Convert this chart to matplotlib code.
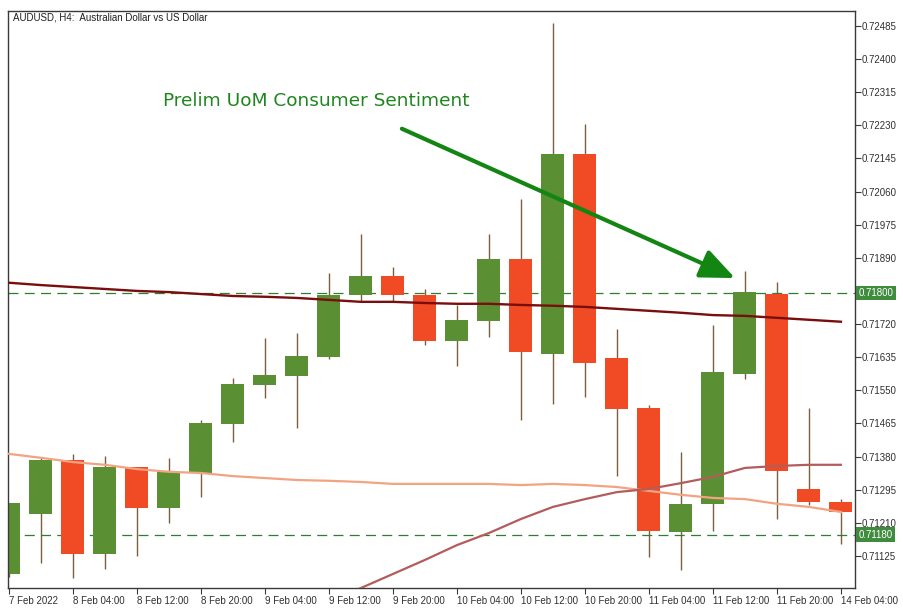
import matplotlib
matplotlib.use("Agg")
import matplotlib.pyplot as plt
import numpy as np
from matplotlib.transforms import blended_transform_factory

# ---- data (AUDUSD H4) ----
opens  = [0.71079, 0.71233, 0.71371, 0.71130, 0.71353, 0.71248, 0.71338, 0.71464, 0.71564,
          0.71587, 0.71636, 0.71795, 0.71843, 0.71795, 0.71677, 0.71728, 0.71887, 0.71643,
          0.72157, 0.71633, 0.71505, 0.71187, 0.71259, 0.71592, 0.71797, 0.71297, 0.71264]
highs  = [0.71261, 0.71379, 0.71387, 0.71382, 0.71353, 0.71377, 0.71474, 0.71582, 0.71684,
          0.71697, 0.71851, 0.71951, 0.71867, 0.71810, 0.71769, 0.71951, 0.72041, 0.72493,
          0.72234, 0.71708, 0.71513, 0.71392, 0.71718, 0.71856, 0.71828, 0.71505, 0.71271]
lows   = [0.71070, 0.71107, 0.71069, 0.71092, 0.71125, 0.71210, 0.71276, 0.71418, 0.71530,
          0.71453, 0.71630, 0.71777, 0.71777, 0.71666, 0.71613, 0.71687, 0.71474, 0.71515,
          0.71533, 0.71330, 0.71122, 0.71089, 0.71189, 0.71579, 0.71220, 0.71256, 0.71156]
closes = [0.71261, 0.71371, 0.71130, 0.71353, 0.71248, 0.71341, 0.71466, 0.71566, 0.71589,
          0.71638, 0.71795, 0.71843, 0.71795, 0.71677, 0.71731, 0.71887, 0.71649, 0.72157,
          0.71620, 0.71502, 0.71189, 0.71259, 0.71597, 0.71802, 0.71343, 0.71264, 0.71238]

ma_slow = [0.71826, 0.71820, 0.71815, 0.71810, 0.71805, 0.71802, 0.71797, 0.71792, 0.71790,
           0.71787, 0.71782, 0.71777, 0.71777, 0.71774, 0.71772, 0.71772, 0.71769, 0.71767,
           0.71764, 0.71759, 0.71754, 0.71749, 0.71743, 0.71741, 0.71736, 0.71731, 0.71726]
ma_mid  = [0.71387, 0.71377, 0.71366, 0.71359, 0.71348, 0.71341, 0.71338, 0.71330, 0.71325,
           0.71320, 0.71318, 0.71315, 0.71310, 0.71310, 0.71310, 0.71310, 0.71307, 0.71310,
           0.71307, 0.71302, 0.71292, 0.71282, 0.71274, 0.71271, 0.71259, 0.71251, 0.71238]
ma_fast = [np.nan] * 10 + [0.71007, 0.71043, 0.71079, 0.71115, 0.71153, 0.71184, 0.71220,
                           0.71251, 0.71271, 0.71289, 0.71297, 0.71312, 0.71328, 0.71351,
                           0.71356, 0.71359, 0.71359]

level_lines = [0.71800, 0.71180]
ytick_values = [round(0.72485 - 0.00085 * i, 5) for i in range(17)]
xtick_labels = ["7 Feb 2022", "8 Feb 04:00", "8 Feb 12:00", "8 Feb 20:00", "9 Feb 04:00",
                "9 Feb 12:00", "9 Feb 20:00", "10 Feb 04:00", "10 Feb 12:00", "10 Feb 20:00",
                "11 Feb 04:00", "11 Feb 12:00", "11 Feb 20:00", "14 Feb 04:00"]
title = "AUDUSD, H4:  Australian Dollar vs US Dollar"
annotation = "Prelim UoM Consumer Sentiment"

# ---- styles ----
UP = "#5b8f33"
DOWN = "#f04b24"
WICK = "#7d5f3e"
AX = "#3a3a3a"
LVL = "#2f7d2f"
TXT = "#303030"

W, H = 904, 613
fig = plt.figure(figsize=(W / 100, H / 100), dpi=100)
L, R, T, B = 8, 855, 11, 588
ax = fig.add_axes([L / W, (H - B) / H, (R - L) / W, (B - T) / H])

n = len(opens)
x = np.arange(n)
ax.set_xlim(-0.03, 26.44)
ax.set_ylim(0.71043, 0.72523)

# MAs
ax.plot(x, ma_mid, color="#f2a482", lw=1.6, zorder=3)
ax.plot(x, ma_fast, color="#b35c5c", lw=1.6, zorder=3)
ax.plot(x, ma_slow, color="#7a0d0d", lw=1.7, zorder=3)

# level lines
for lv in level_lines:
    ax.axhline(lv, color=LVL, lw=0.9, dashes=(8, 5), zorder=2)

# candles
o = np.array(opens); c = np.array(closes)
hi = np.array(highs); lo = np.array(lows)
colors = [UP if cc >= oo else DOWN for oo, cc in zip(o, c)]
ax.vlines(x, lo, hi, color=WICK, lw=1.0, zorder=1)
ax.bar(x, np.abs(c - o), bottom=np.minimum(o, c), width=0.72, color=colors,
       linewidth=0, zorder=2)

# annotation with arrow
ax.annotate("", xy=(22.69, 0.71838), xytext=(12.28, 0.72221),
            arrowprops=dict(arrowstyle="-|>,head_length=0.7,head_width=0.3",
                            color="#138513", lw=3,
                            mutation_scale=30, shrinkA=0, shrinkB=0), zorder=5)
ax.text(4.81, 0.72293, annotation, color="#1f861f", fontsize=13.3,
        family="DejaVu Sans", ha="left", va="center", zorder=5)

# title
ax.text(5 / (R - L), 1 - 7 / (B - T), title, transform=ax.transAxes, fontsize=7,
        family="Liberation Sans", color="#202020", ha="left", va="center")

# axes styling
for s in ax.spines.values():
    s.set_color(AX)
    s.set_linewidth(1.0)
ax.yaxis.tick_right()
ax.set_yticks(ytick_values)
ax.set_yticklabels(["" if abs(v - 0.71805) < 1e-6 else f"{v:.5f}" for v in ytick_values])
ax.set_xticks(np.arange(0, n, 2))
ax.set_xticklabels(xtick_labels)
ax.tick_params(axis="y", direction="out", length=4, width=0.8, color=AX, pad=1,
               labelsize=7, labelcolor=TXT)
ax.tick_params(axis="x", direction="out", length=4, width=0.8, color=AX, pad=2,
               labelsize=7, labelcolor=TXT)
for lab in ax.get_xticklabels():
    lab.set_horizontalalignment("left")
    lab.set_fontfamily("Liberation Sans")
for lab in ax.get_yticklabels():
    lab.set_fontfamily("Liberation Sans")

# level price boxes on right axis
trans = blended_transform_factory(ax.transAxes, ax.transData)
for lv in level_lines:
    ax.text(1 + 3.5 / (R - L), lv, f"{lv:.5f}", transform=trans, fontsize=7,
            family="Liberation Sans", color="white", ha="left", va="center",
            bbox=dict(boxstyle="square,pad=0.22", fc="#3f8c3f", ec="none"),
            clip_on=False, zorder=6)

fig.savefig("out.png", dpi=100)
